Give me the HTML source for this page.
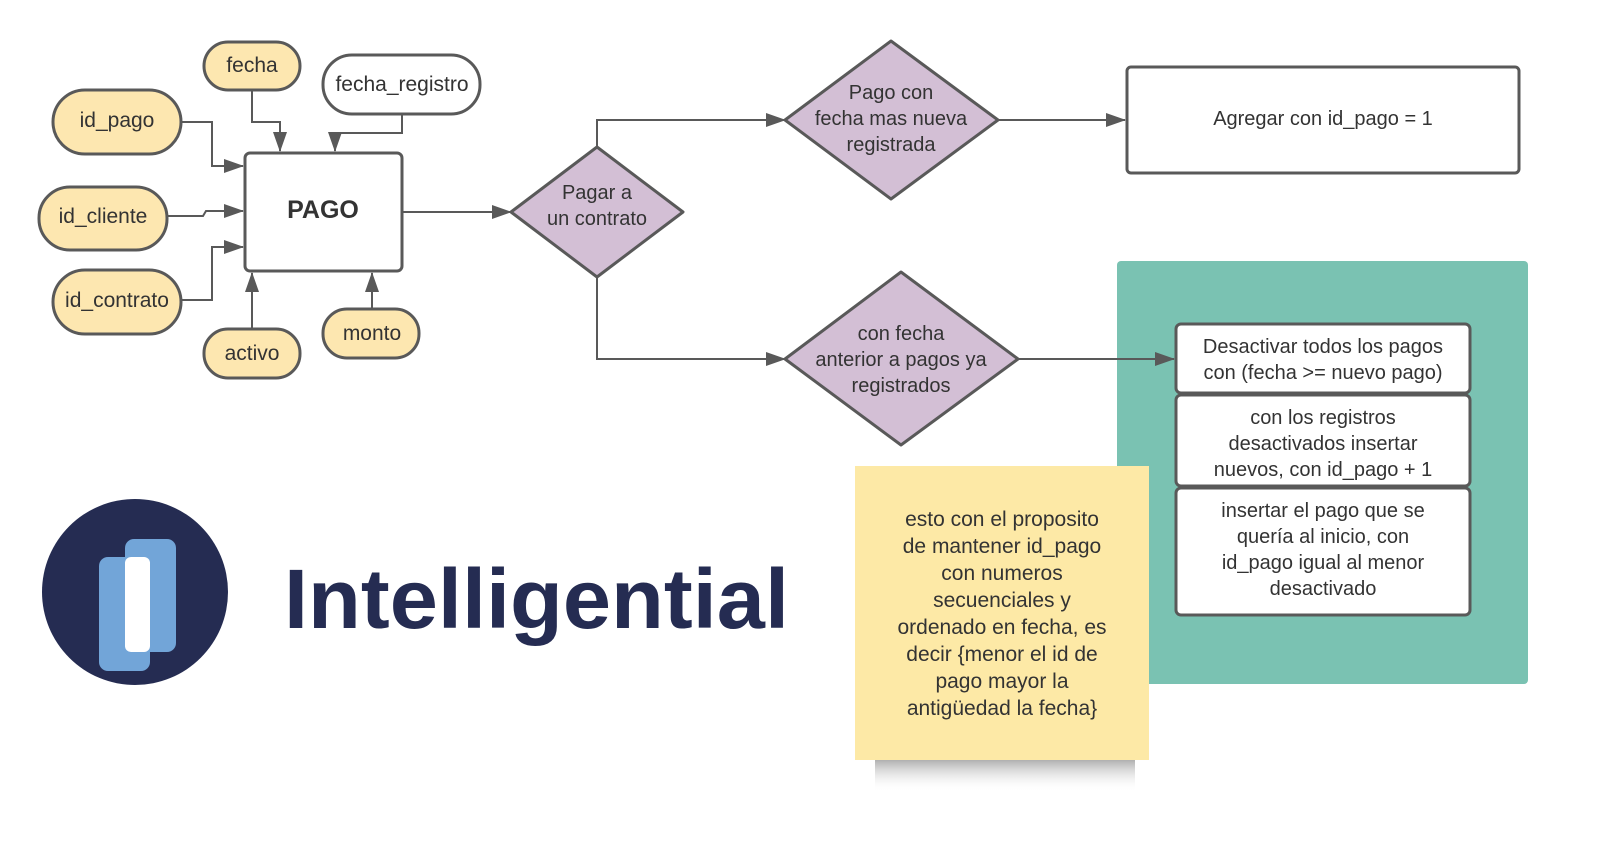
<!DOCTYPE html>
<html><head><meta charset="utf-8"><style>
html,body{margin:0;padding:0;background:#fff;}
svg{display:block;}
text{font-family:"Liberation Sans",sans-serif;fill:#333;}
</style></head><body>
<svg width="1600" height="853" viewBox="0 0 1600 853" xmlns="http://www.w3.org/2000/svg">
<defs>
<marker id="b" markerWidth="20" markerHeight="14" refX="19" refY="7" orient="auto" markerUnits="userSpaceOnUse"><path d="M0,0 L20,7 L0,14 z" fill="#595959"/></marker>
<linearGradient id="sh" x1="0" y1="0" x2="0" y2="1"><stop offset="0" stop-color="#888" stop-opacity="0.8"/><stop offset="1" stop-color="#fff" stop-opacity="0"/></linearGradient>
</defs>
<g fill="none" stroke="#595959" stroke-width="2">
<path d="M181,122 H212 V166 H243" marker-end="url(#b)"/>
<path d="M167,216 H203 L206,211 H243" marker-end="url(#b)"/>
<path d="M181,300 H212 V247 H243" marker-end="url(#b)"/>
<path d="M252,90 V122 H280 V151" marker-end="url(#b)"/>
<path d="M402,114 V133 H335 V151" marker-end="url(#b)"/>
<path d="M252,329 V273" marker-end="url(#b)"/>
<path d="M372,309 V273" marker-end="url(#b)"/>
<path d="M402,212 H511" marker-end="url(#b)"/>
<path d="M597,147 V120 H785" marker-end="url(#b)"/>
<path d="M597,277 V359 H785" marker-end="url(#b)"/>
<path d="M998,120 H1125" marker-end="url(#b)"/>
</g>
<rect x="1117" y="261" width="411" height="423" rx="4" fill="#7ac2b2"/>
<path d="M1018,359 H1174" fill="none" stroke="#595959" stroke-width="2" marker-end="url(#b)"/>
<g stroke="#595959" stroke-width="3">
<rect x="204" y="42" width="96" height="48" rx="24" fill="#fde7b0"/>
<rect x="323" y="55" width="157" height="59" rx="29" fill="#fff"/>
<rect x="53" y="90" width="128" height="64" rx="32" fill="#fde7b0"/>
<rect x="39" y="187" width="128" height="63" rx="31" fill="#fde7b0"/>
<rect x="53" y="270" width="128" height="64" rx="32" fill="#fde7b0"/>
<rect x="204" y="329" width="96" height="49" rx="24" fill="#fde7b0"/>
<rect x="323" y="309" width="96" height="49" rx="24" fill="#fde7b0"/>
<rect x="245" y="153" width="157" height="118" rx="5" fill="#fff"/>
<path d="M511,212 L597,147 L683,212 L597,277 Z" fill="#d3bfd5" stroke-linejoin="round"/>
<path d="M785,120 L891,41 L998,120 L891,199 Z" fill="#d3bfd5" stroke-linejoin="round"/>
<path d="M785,359 L901,272 L1018,359 L901,445 Z" fill="#d3bfd5" stroke-linejoin="round"/>
<rect x="1127" y="67" width="392" height="106" rx="4" fill="#fff"/>
<rect x="1176" y="324" width="294" height="69" rx="5" fill="#fff"/>
<rect x="1176" y="395" width="294" height="91" rx="5" fill="#fff"/>
<rect x="1176" y="488" width="294" height="127" rx="5" fill="#fff"/>
</g>
<g font-size="21" text-anchor="middle">
<text x="252" y="72">fecha</text>
<text x="402" y="91">fecha_registro</text>
<text x="117" y="127">id_pago</text>
<text x="103" y="223">id_cliente</text>
<text x="117" y="307">id_contrato</text>
<text x="252" y="360">activo</text>
<text x="372" y="340">monto</text>
<text x="323" y="218" font-size="25" font-weight="bold">PAGO</text>
<text x="597" y="199" font-size="20">Pagar a</text>
<text x="597" y="225" font-size="20">un contrato</text>
<text x="891" y="99" font-size="20">Pago con</text>
<text x="891" y="125" font-size="20">fecha mas nueva</text>
<text x="891" y="151" font-size="20">registrada</text>
<text x="901" y="340" font-size="20">con fecha</text>
<text x="901" y="366" font-size="20">anterior a pagos ya</text>
<text x="901" y="392" font-size="20">registrados</text>
<text x="1323" y="125" font-size="20">Agregar con id_pago = 1</text>
<g font-size="20">
<text x="1323" y="353">Desactivar todos los pagos</text>
<text x="1323" y="379">con (fecha &gt;= nuevo pago)</text>
<text x="1323" y="424">con los registros</text>
<text x="1323" y="450">desactivados insertar</text>
<text x="1323" y="476">nuevos, con id_pago + 1</text>
<text x="1323" y="517">insertar el pago que se</text>
<text x="1323" y="543">quería al inicio, con</text>
<text x="1323" y="569">id_pago igual al menor</text>
<text x="1323" y="595">desactivado</text>
</g>
</g>
<rect x="875" y="757" width="260" height="35" fill="url(#sh)"/>
<rect x="855" y="466" width="294" height="294" fill="#fde9a6"/>
<g font-size="21" text-anchor="middle" style="fill:#111">
<text x="1002" y="526">esto con el proposito</text>
<text x="1002" y="553">de mantener id_pago</text>
<text x="1002" y="580">con numeros</text>
<text x="1002" y="607">secuenciales y</text>
<text x="1002" y="634">ordenado en fecha, es</text>
<text x="1002" y="661">decir {menor el id de</text>
<text x="1002" y="688">pago mayor la</text>
<text x="1002" y="715">antigüedad la fecha}</text>
</g>
<ellipse cx="135" cy="592" rx="93" ry="93" fill="#252c52"/>
<rect x="99" y="557" width="51" height="114" rx="9" fill="#72a5d8"/>
<rect x="125" y="539" width="51" height="113" rx="9" fill="#72a5d8"/>
<rect x="125" y="557" width="25" height="95" rx="6" fill="#fff"/>
<text x="284" y="628" font-size="84" font-weight="bold" textLength="505" lengthAdjust="spacingAndGlyphs" style="fill:#252c52">Intelligential</text>
</svg>
</body></html>
